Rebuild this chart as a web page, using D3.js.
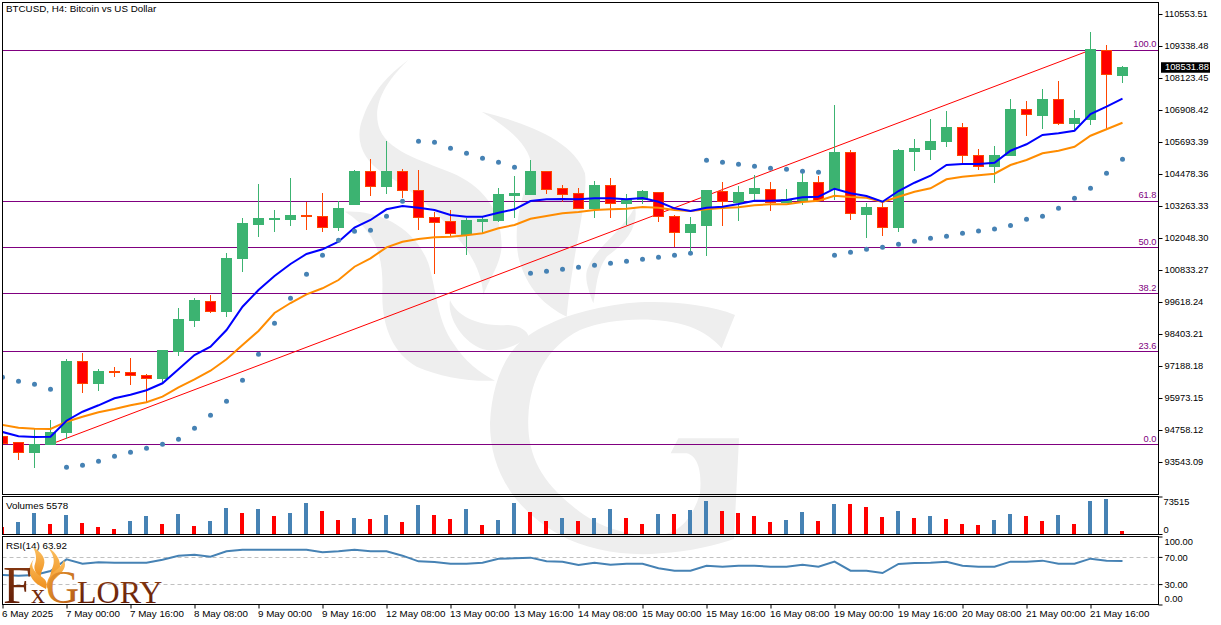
<!DOCTYPE html>
<html>
<head>
<meta charset="utf-8">
<title>BTCUSD H4</title>
<script src="https://cdn.jsdelivr.net/npm/d3@7"></script>
<style>
	html, body { margin: 0; padding: 0; background: #fff; }
	svg { display: block; }
	text { font-family: "Liberation Sans", Arial, sans-serif; font-size: 9.8px; fill: #000; }
	.tick line, .domain { stroke: #000; }
</style>
</head>
<body>
<div id="chart"></div>
<script>
// candle values, oldest first
const opens = [94511,94275,93896,94199,94655,97378,96516,96987,96960,96846,96732,97731,98897,99645,99249,101262,102542,102743,102732,102921,102883,102439,103312,104592,103996,104592,103860,102835,102656,102200,102667,102694,103654,103692,104592,103909,103719,103160,104023,103350,103518,103784,102883,102249,102515,103822,103388,103730,103898,103388,103491,104163,103871,105276,102959,103214,102439,105314,105427,105704,106225,105189,104755,105173,106946,106718,107315,106377,106540,109176,108210];
const highs = [94606,94313,94785,95138,97454,97693,97074,97161,97503,96873,97758,99379,99759,99884,101468,102797,104099,103111,104315,103426,103768,103453,104630,105048,105731,104668,104630,103046,103111,102808,102883,103958,104402,105010,104592,104061,103958,104212,104315,103719,103871,103784,102921,102835,103833,104185,104023,104429,104185,103920,104657,104402,107098,105390,103388,103377,105416,105796,106567,106870,106426,105427,105541,107326,107250,107706,108009,106908,109870,109376,108579];
const lows = [94188,93619,93326,94199,94427,96174,96239,96781,96467,95772,96591,97568,98680,99200,99060,100768,102097,102287,102515,102352,102287,102325,103312,103654,103719,103556,102352,100681,102097,101403,102227,102667,102819,103692,103719,103426,103160,102819,102819,102542,103339,102667,101695,101403,101376,102515,102705,103491,103084,103388,103301,103453,103491,102732,102059,102135,102287,104603,105010,105514,104885,104630,104147,105173,105921,106187,106339,106149,106339,106187,107933];
const closes = [94264,93912,94215,94682,97378,96516,96998,96933,96819,96732,97758,98935,99694,99249,101278,102580,102770,102770,102921,102846,102439,103176,104592,103996,104592,103844,102835,102645,102211,102694,102732,103681,103719,104592,103882,103692,103160,104023,103366,103518,103795,102857,102265,102542,103833,103442,103757,103909,103404,103518,104174,103491,105276,102986,103225,102455,105352,105465,105731,106225,105173,104771,105189,106946,106729,107326,106388,106567,109187,108248,108532];

// moving averages
const maFast = [94682,94519,94492,94503,95111,95452,95696,95962,96098,96266,96532,97063,97606,97920,98555,99439,100074,100605,101061,101441,101619,101907,102439,102732,103138,103263,103198,103111,102921,102857,102857,103008,103138,103453,103518,103529,103518,103556,103556,103518,103567,103426,103176,103073,103198,103236,103339,103464,103464,103491,103594,103616,103920,103746,103643,103426,103833,104147,104413,104820,104858,104858,104907,105363,105606,105959,106024,106122,106756,107033,107337];
const maSlow = [94948,94845,94807,94796,95073,95263,95430,95555,95696,95810,96022,96380,96683,97009,97443,97985,98517,99200,99580,99911,100139,100453,100958,101278,101695,101907,102010,102075,102097,102151,102227,102417,102542,102781,102883,102986,103035,103111,103138,103160,103225,103198,103111,103073,103138,103187,103214,103290,103328,103328,103415,103464,103654,103605,103578,103415,103616,103806,103936,104277,104375,104429,104489,104820,105010,105265,105363,105514,105932,106176,106426];

// parabolic sar, one dot per bar
const sarDots = [96759,96607,96494,96304,93342,93418,93570,93760,93912,94063,94215,94405,94823,95316,95848,96645,97633,98810,99759,100670,101392,101961,102303,102341,102872,103442,105720,105682,105454,105265,105075,104923,104733,100708,100784,100860,100936,101012,101088,101164,101240,101316,101392,101468,104999,104923,104847,104771,104695,104657,104581,104543,101392,101506,101619,101695,101809,101923,102037,102113,102227,102314,102390,102523,102759,102872,103176,103556,103936,104505,105037];

const volumes = [13730,23530,41170,19600,37250,21570,13720,9800,25490,35290,19600,39210,15680,25490,50970,41170,49010,35290,41170,60780,45090,27450,31370,29410,37250,23530,56860,37250,29410,49010,17650,27450,60780,43130,25490,31370,25490,31370,49010,31370,19600,39210,39210,47050,64700,45090,41170,35290,23530,27450,43130,25490,58820,58820,52930,33330,45090,31370,35290,29410,19600,17650,27450,39210,35290,25490,37250,19600,64700,68620,5880];
const rsi = [43.4,42.4,43.4,49.3,66.4,60,62,61.5,61.5,61.5,65.9,71.8,73.3,70.3,78.2,80.6,80.6,80.6,80.6,80.6,76.7,78.2,80.6,78.2,78.2,71.8,63.5,62.5,60,60,61.5,67.4,67.9,68.9,63.5,63,58.1,61.5,58.6,60,60,53.2,49.8,49.8,57.1,55.6,57.1,57.1,55.6,55.6,58.6,55.6,63,49.8,49.8,46.3,59.6,61,61.5,63,57.1,55.6,55.6,63,63,64.5,60,60,67.4,64.5,63.92];

const priceTicks = [110553.51,109338.48,108123.45,106908.42,105693.39,104478.36,103263.33,102048.30,100833.27,99618.24,98403.21,97188.18,95973.15,94758.12,93543.09];
const fibPrices = [94215,97744,99945,101691,103455,109185];
const fibLabels = ["0.0","23.6","38.2","50.0","61.8","100.0"];
const trendBars = [3,68];
const trendPrices = [94215,109185];
const lastPrice = 108531.88;
const volumeTicks = [73515,0];
const rsiTicks = [100,70,30,0];
const timeBars = [0,4,8,12,16,20,24,28,32,36,40,44,48,52,56,60,64,68];
const timeLabels = ["6 May 2025","7 May 00:00","7 May 16:00","8 May 08:00","9 May 00:00","9 May 16:00","12 May 08:00","13 May 00:00","13 May 16:00","14 May 08:00","15 May 00:00","15 May 16:00","16 May 08:00","19 May 00:00","19 May 16:00","20 May 08:00","21 May 00:00","21 May 16:00"];

const COLORS = {
	UP: "#3cb371",
	DOWN: "#ff0000",
	DOWN_EDGE: "#ff4500",
	FIB: "#800080",
	FAST: "#0000ff",
	SLOW: "#ff8c00",
	STEEL: "#4682b4",
	WATERMARK: "#eeeeee"
};

const WIDTH = 1221;
const HEIGHT = 625;
const LEFT = 2.5;
const RIGHT = 1158.5;
const NUMBER_FONT = "9.3px";

const bars = d3.range(opens.length);

const x = d3.scaleLinear().domain([0, 70]).range([2.5, 1122.5]);
const y = d3.scaleLinear().domain([93543.09, 110553.51]).range([462, 14]);
const yVol = d3.scaleLinear().domain([0, 73515]).range([534, 496.5]);
const yRsi = d3.scaleLinear().domain([0, 100]).range([604.5, 536.5]);

const svg = d3.select("#chart").append("svg")
	.attr("width", WIDTH)
	.attr("height", HEIGHT);

const defs = svg.append("defs");

function addClip(id, top, bottom) {
	defs.append("clipPath").attr("id", id).append("rect")
		.attr("x", LEFT + 0.5).attr("y", top)
		.attr("width", RIGHT - LEFT - 1).attr("height", bottom - top);
}
addClip("clip-main", 3, 494);
addClip("clip-vol", 497, 534);
addClip("clip-rsi", 537, 604);

const flameGrad = defs.append("linearGradient").attr("id", "flame")
	.attr("x1", 0).attr("y1", 0).attr("x2", 0).attr("y2", 1);
flameGrad.append("stop").attr("offset", 0).attr("stop-color", "#fbc062");
flameGrad.append("stop").attr("offset", 1).attr("stop-color", "#ef8f1c");

const brandGrad = defs.append("linearGradient").attr("id", "brand")
	.attr("x1", 0).attr("y1", 0).attr("x2", 0).attr("y2", 1);
brandGrad.append("stop").attr("offset", 0).attr("stop-color", "#8c3d12");
brandGrad.append("stop").attr("offset", 1).attr("stop-color", "#5a1806");

const gGrad = defs.append("linearGradient").attr("id", "brand-g")
	.attr("x1", 0).attr("y1", 0).attr("x2", 1).attr("y2", 1);
gGrad.append("stop").attr("offset", 0).attr("stop-color", "#f5a637");
gGrad.append("stop").attr("offset", 1).attr("stop-color", "#a84c10");

// watermark behind everything, traced at 3x so the paths stay readable
const watermark = svg.append("g")
	.attr("transform", "translate(340,60) scale(0.33333)")
	.attr("fill", COLORS.WATERMARK);
[
	"M205,0 C110,90 100,160 120,210 C150,280 260,305 350,345 C440,390 485,460 485,560 C480,620 445,660 430,705 C425,640 400,590 350,530 C290,450 200,380 130,340 C70,300 40,240 70,170 C100,90 150,40 205,0Z",
	"M15,455 C100,450 220,490 265,610 C290,690 290,780 340,850 C370,900 420,940 465,962 C380,965 300,950 230,920 C160,880 125,800 127,700 C130,610 120,520 15,455Z",
	"M330,720 C350,770 420,800 500,795 C540,795 565,815 565,830 C530,860 480,875 440,870 C380,860 320,780 330,720Z",
	"M425,155 C560,190 700,240 735,340 C745,420 700,560 680,770 C620,740 560,690 535,590 C520,500 540,430 570,340 C590,280 520,210 425,155Z",
	"M885,440 C895,490 870,540 800,590 C770,630 770,680 760,730 C745,690 730,650 745,620 C770,560 850,510 885,440Z",
	"M1185,765 C1100,730 960,720 860,730 C750,745 650,770 560,830 C490,880 455,980 450,1090 C450,1220 510,1340 660,1425 C740,1470 860,1490 960,1480 C1050,1475 1130,1455 1182,1437 L1197,1135 L1015,1135 L992,1180 L1040,1180 C1080,1190 1085,1250 1080,1300 C1060,1370 1020,1420 960,1425 C860,1430 770,1400 700,1340 C600,1260 560,1180 565,1070 C570,960 620,860 720,810 C820,770 960,770 1050,800 C1090,815 1125,840 1145,865Z"
].forEach(function(d) { watermark.append("path").attr("d", d); });

// main panel
const main = svg.append("g").attr("clip-path", "url(#clip-main)");

main.selectAll(".fib").data(fibPrices).enter().append("line")
	.attr("class", "fib")
	.attr("x1", LEFT).attr("x2", RIGHT)
	.attr("y1", function(d) { return Math.round(y(d)) + 0.5; })
	.attr("y2", function(d) { return Math.round(y(d)) + 0.5; })
	.attr("stroke", COLORS.FIB);

main.append("line")
	.attr("x1", x(trendBars[0])).attr("y1", y(trendPrices[0]))
	.attr("x2", x(trendBars[1])).attr("y2", y(trendPrices[1]))
	.attr("stroke", COLORS.DOWN);

const candle = main.selectAll(".candle").data(bars).enter().append("g")
	.attr("class", "candle")
	.attr("shape-rendering", "crispEdges");

candle.append("line")
	.attr("x1", function(i) { return x(i); })
	.attr("x2", function(i) { return x(i); })
	.attr("y1", function(i) { return y(highs[i]); })
	.attr("y2", function(i) { return y(lows[i]); })
	.attr("stroke", function(i) { return closes[i] >= opens[i] ? COLORS.UP : COLORS.DOWN_EDGE; });

candle.append("rect")
	.attr("x", function(i) { return x(i) - 5; })
	.attr("width", 10)
	.attr("y", function(i) { return y(Math.max(opens[i], closes[i])); })
	.attr("height", function(i) { return Math.max(0.5, Math.abs(y(opens[i]) - y(closes[i]))); })
	.attr("fill", function(i) { return closes[i] >= opens[i] ? COLORS.UP : COLORS.DOWN; })
	.attr("stroke", function(i) { return closes[i] >= opens[i] ? COLORS.UP : COLORS.DOWN_EDGE; });

const maLine = d3.line()
	.x(function(d, i) { return x(i); })
	.y(function(d) { return y(d); });

main.append("path").datum(maSlow).attr("d", maLine)
	.attr("fill", "none").attr("stroke", COLORS.SLOW).attr("stroke-width", 2);
main.append("path").datum(maFast).attr("d", maLine)
	.attr("fill", "none").attr("stroke", COLORS.FAST).attr("stroke-width", 2);

main.selectAll(".sar").data(sarDots).enter().append("circle")
	.attr("class", "sar")
	.attr("cx", function(d, i) { return x(i); })
	.attr("cy", function(d) { return y(d); })
	.attr("r", 2.5)
	.attr("fill", COLORS.STEEL);

svg.selectAll(".fib-label").data(fibPrices).enter().append("text")
	.attr("class", "fib-label")
	.attr("x", RIGHT - 2)
	.attr("y", function(d) { return y(d) - 6; })
	.attr("dy", "0.35em")
	.attr("text-anchor", "end")
	.style("font-size", NUMBER_FONT)
	.style("fill", COLORS.FIB)
	.text(function(d, i) { return fibLabels[i]; });

// volumes, blue when a bar's volume is above the previous one
svg.append("g").attr("clip-path", "url(#clip-vol)")
	.selectAll("rect").data(volumes).enter().append("rect")
	.attr("x", function(d, i) { return x(i) - 2.5; })
	.attr("width", 4)
	.attr("y", function(d) { return yVol(d); })
	.attr("height", function(d) { return yVol(0) - yVol(d); })
	.attr("shape-rendering", "crispEdges")
	.attr("fill", function(d, i) { return i > 0 && d > volumes[i - 1] ? COLORS.STEEL : COLORS.DOWN; });

// rsi
const rsiPanel = svg.append("g").attr("clip-path", "url(#clip-rsi)");
[70, 30].forEach(function(level) {
	rsiPanel.append("line")
		.attr("x1", LEFT).attr("x2", RIGHT)
		.attr("y1", Math.round(yRsi(level)) + 0.5)
		.attr("y2", Math.round(yRsi(level)) + 0.5)
		.attr("stroke", "#c0c0c0")
		.attr("stroke-dasharray", "4,3");
});
rsiPanel.append("path").datum(rsi)
	.attr("d", d3.line().x(function(d, i) { return x(i); }).y(function(d) { return yRsi(d); }))
	.attr("fill", "none")
	.attr("stroke", COLORS.STEEL)
	.attr("stroke-width", 2);

// panel frames
const frame = svg.append("g").attr("fill", "none").attr("stroke", "#000").attr("shape-rendering", "crispEdges");
[[2.5, 494.5], [496.5, 534.5], [536.5, 604.5]].forEach(function(p) {
	frame.append("rect")
		.attr("x", LEFT).attr("y", p[0])
		.attr("width", RIGHT - LEFT).attr("height", p[1] - p[0]);
});

// axes
const priceAxis = d3.axisRight(y)
	.tickValues(priceTicks)
	.tickSize(4)
	.tickPadding(2)
	.tickFormat(d3.format(".2f"));
svg.append("g").attr("class", "num-axis").attr("transform", "translate(" + RIGHT + ",0)").call(priceAxis)
	.call(function(g) { g.select(".domain").remove(); });

const volAxis = d3.axisRight(yVol)
	.tickValues(volumeTicks)
	.tickSize(4)
	.tickPadding(1)
	.tickFormat(d3.format("d"));
svg.append("g").attr("class", "num-axis").attr("transform", "translate(" + RIGHT + ",0)").call(volAxis)
	.call(function(g) {
		g.select(".domain").remove();
		g.selectAll("text").attr("dy", function(d) { return d > 0 ? "0.85em" : "-0.2em"; });
	});

const rsiAxis = d3.axisRight(yRsi)
	.tickValues(rsiTicks)
	.tickSize(4)
	.tickPadding(2)
	.tickFormat(d3.format(".2f"));
svg.append("g").attr("class", "num-axis").attr("transform", "translate(" + RIGHT + ",0)").call(rsiAxis)
	.call(function(g) {
		g.select(".domain").remove();
		g.selectAll("text").attr("dy", function(d) {
			return d === 100 ? "0.9em" : d === 0 ? "-0.3em" : "0.35em";
		});
	});

const timeAxis = d3.axisBottom(x)
	.tickValues(timeBars)
	.tickSize(4)
	.tickPadding(2)
	.tickFormat(function(d, i) { return timeLabels[i]; });
svg.append("g").attr("class", "time-axis").attr("transform", "translate(0,604.5)").call(timeAxis)
	.call(function(g) {
		g.select(".domain").remove();
		g.selectAll("text").attr("text-anchor", "start").attr("x", -1);
	});

svg.selectAll("g.tick text").style("font-family", "inherit");
svg.selectAll(".num-axis text").style("font-size", NUMBER_FONT);
svg.selectAll(".time-axis text").style("font-size", "9.8px");

// current price marker
svg.append("rect")
	.attr("x", 1161).attr("y", y(lastPrice) - 5)
	.attr("width", 49).attr("height", 10.5)
	.attr("fill", "#000");
svg.append("text")
	.attr("x", 1165).attr("y", y(lastPrice))
	.attr("dy", "0.35em")
	.style("font-size", NUMBER_FONT)
	.style("fill", "#fff")
	.text(d3.format(".2f")(lastPrice));

// panel captions
svg.append("text").attr("x", 6).attr("y", 9).attr("dy", "0.35em").text("BTCUSD, H4:  Bitcoin vs US Dollar");
svg.append("text").attr("x", 6).attr("y", 505.5).attr("dy", "0.35em").text("Volumes 5578");
svg.append("text").attr("x", 6).attr("y", 545.5).attr("dy", "0.35em").text("RSI(14) 63.92");

// broker logo, bottom left
const logo = svg.append("g");
[
	"M33,547 C41,552 46,558 44,565 C43,570 40,573 41,578 C36,574 33,569 35,564 C37,558 36,553 33,547Z",
	"M49,548 C56,553 61,560 60,568 C58,575 54,578 51,583 C49,577 51,571 53,566 C55,560 53,554 49,549Z",
	"M35,558 C29,564 33,572 42,577 C46,580 48,583 46,589 C40,586 32,582 30,574 C28,568 31,562 35,558Z",
	"M64,560 C67,566 63,572 58,576 C54,580 50,583 47,589 C46,580 50,575 55,571 C59,568 62,565 64,560Z"
].forEach(function(d) { logo.append("path").attr("d", d).attr("fill", "url(#flame)"); });
logo.append("text").attr("x", 3).attr("y", 603)
	.style("font-family", "Liberation Serif").style("font-size", "52px").style("fill", "url(#brand)").text("F");
logo.append("text").attr("x", 31).attr("y", 603)
	.style("font-family", "Liberation Serif").style("font-size", "28px").style("fill", "url(#brand)").text("x");
logo.append("text").attr("x", 46).attr("y", 603)
	.style("font-family", "Liberation Serif").style("font-size", "46px").style("fill", "url(#brand-g)").text("G");
logo.append("text").attr("x", 77).attr("y", 603)
	.style("font-family", "Liberation Serif").style("font-size", "32px").style("fill", "url(#brand)").text("LORY");
</script>
</body>
</html>
